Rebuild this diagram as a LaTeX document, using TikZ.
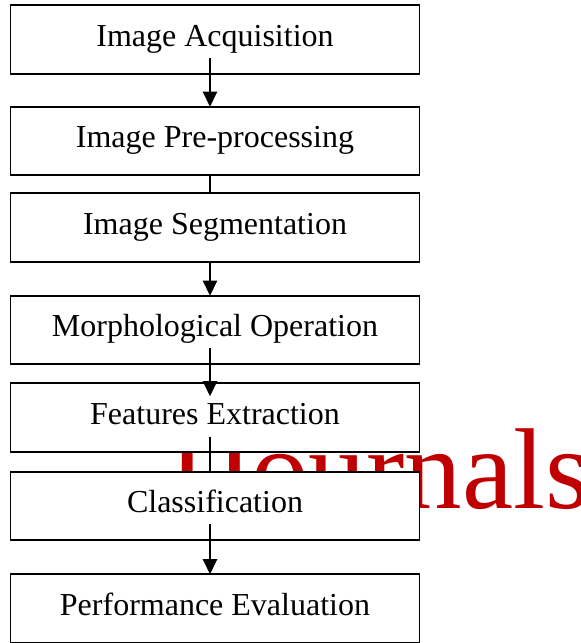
\documentclass[tikz,border=0pt]{standalone}
\usepackage{fontspec}
\setmainfont{Liberation Serif}
\usetikzlibrary{positioning,arrows.meta}
\definecolor{WMRed}{HTML}{C00000}
\tikzset{
    block/.style = {draw, rectangle, fill=white, line width=1.6pt, outer sep=0pt,
        minimum height=68.5pt, minimum width=409pt, align=center,
        text height=22pt, text depth=8pt, font=\fontsize{32}{38}\selectfont},
    arrow/.style = {draw, line width=2.2pt, -{Triangle[width=14pt,length=15pt]}},
    link/.style = {draw, line width=2.2pt},
    wmtext/.style = {anchor=base west, inner sep=0pt, text=WMRed,
        font=\fontsize{115}{115}\selectfont}
}
\begin{document}
\begin{tikzpicture}[x=1pt,y=1pt]
    \useasboundingbox (0,0) rectangle (581,643);
    % watermark behind the boxes
    \node[wmtext] (wm) at (168,134) {IJournals};
    % steps
    \node[block] (acq) at (215,603.5) {Image Acquisition};
    \node[block, below=33pt of acq] (pre) {Image Pre-processing};
    \node[block, below=18pt of pre] (seg) {Image Segmentation};
    \node[block, below=34pt of seg] (mor) {Morphological Operation};
    \node[block, below=19pt of mor] (fea) {Features Extraction};
    \node[block, below=20pt of fea] (cla) {Classification};
    \node[block, below=34pt of cla] (per) {Performance Evaluation};
    % connectors
    \draw[arrow] ([xshift=-5pt,yshift=16pt]acq.south) -- ([xshift=-5pt]pre.north);
    \draw[link] ([xshift=-5pt]pre.south) -- ([xshift=-5pt]seg.north);
    \draw[arrow] ([xshift=-5pt]seg.south) -- ([xshift=-5pt]mor.north);
    \draw[arrow] ([xshift=-5pt,yshift=16pt]mor.south) -- ([xshift=-5pt,yshift=-13pt]fea.north);
    \draw[link] ([xshift=-5pt,yshift=15pt]fea.south) -- ([xshift=-5pt]cla.north);
    \draw[arrow] ([xshift=-5pt,yshift=16pt]cla.south) -- ([xshift=-5pt]per.north);
\end{tikzpicture}
\end{document}
